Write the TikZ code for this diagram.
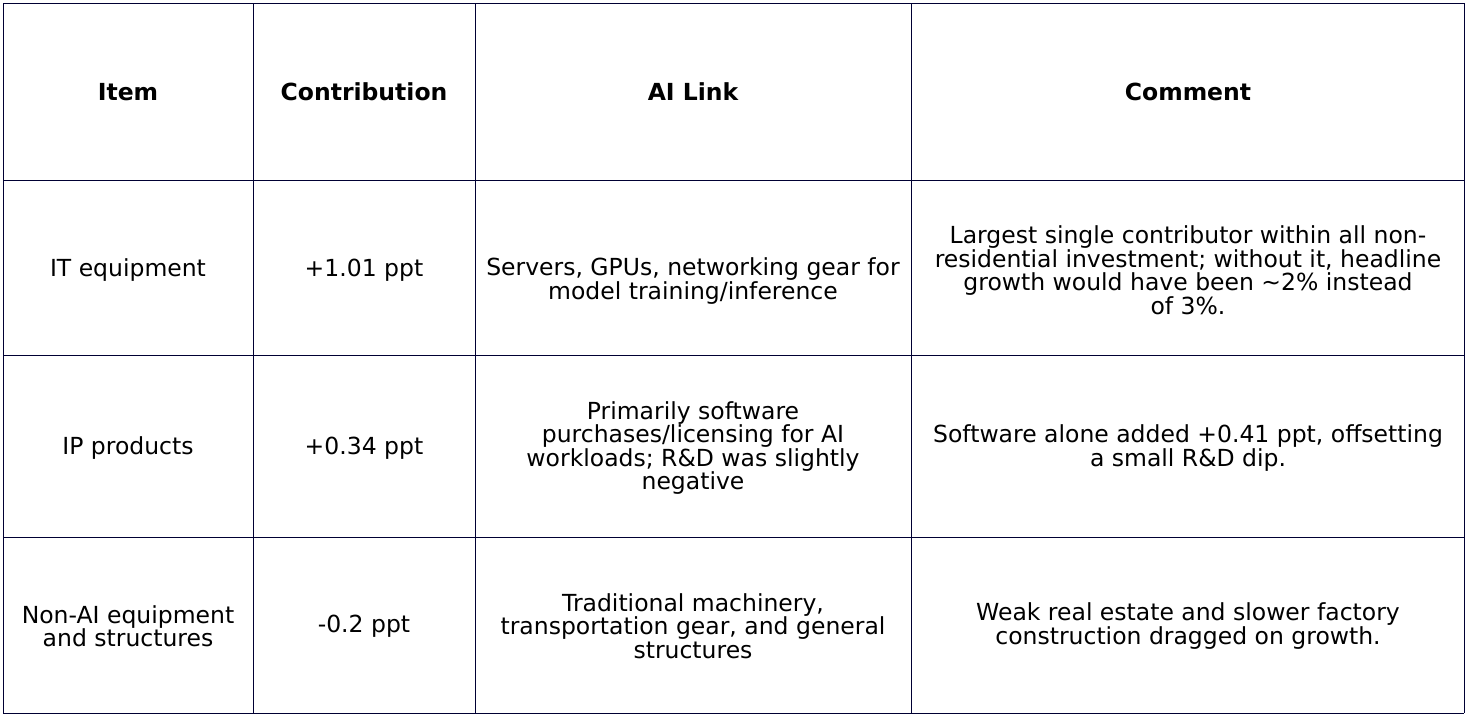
\documentclass[tikz,border=0pt]{standalone}
\usepackage{fontspec}
\setmainfont{DejaVu Sans}
\begin{document}
\begin{tikzpicture}[x=1pt,y=-1pt,
  cell/.style={align=center,font=\fontsize{23.5}{23.5}\selectfont,inner sep=0pt},
  hd/.style={cell,font=\fontsize{23.5}{23.5}\selectfont\bfseries},
  grid/.style={draw=black!80!blue,line width=0.8pt}]
\useasboundingbox (0,0) rectangle (1467,716);
\foreach \x in {3,253,475,911,1464} \draw[grid] (\x,3) -- (\x,713);
\foreach \y in {3,180,355,537,713} \draw[grid] (3,\y) -- (1464,\y);
\node[hd] (h1) at (128,92) {Item};
\node[hd] (h2) at (364,92) {Contribution};
\node[hd] (h3) at (693,92) {AI Link};
\node[hd] (h4) at (1188,92) {Comment};
\node[cell] (a1) at (128,270) {IT equipment};
\node[cell] (a2) at (364,270) {+1.01 ppt};
\node[cell] (a3) at (693,281) {Servers, GPUs, networking gear for\\model training/inference};
\node[cell] (a4) at (1188,270) {Largest single contributor within all non-\\residential investment; without it, headline\\growth would have been \textasciitilde2\% instead\\of 3\%.};
\node[cell] (b1) at (128,448) {IP products};
\node[cell] (b2) at (364,448) {+0.34 ppt};
\node[cell] (b3) at (693,448) {Primarily software\\purchases/licensing for AI\\workloads; R\&D was slightly\\negative};
\node[cell] (b4) at (1188,448) {Software alone added +0.41 ppt, offsetting\\a small R\&D dip.};
\node[cell] (c1) at (128,626) {Non-AI equipment\\and structures};
\node[cell] (c2) at (364,626) {-0.2 ppt};
\node[cell] (c3) at (693,626) {Traditional machinery,\\transportation gear, and general\\structures};
\node[cell] (c4) at (1188,626) {Weak real estate and slower factory\\construction dragged on growth.};
\end{tikzpicture}
\end{document}
